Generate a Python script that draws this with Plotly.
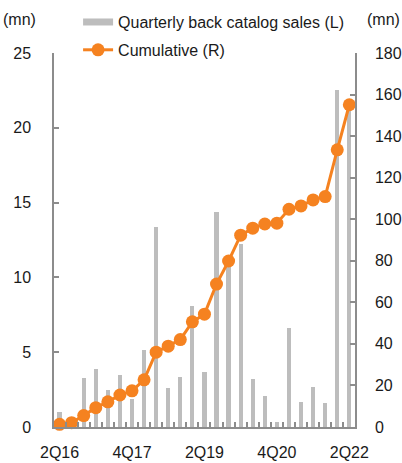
import plotly.graph_objects as go

quarters = ["2Q16", "3Q16", "4Q16", "1Q17", "2Q17", "3Q17", "4Q17", "1Q18", "2Q18", "3Q18",
            "4Q18", "1Q19", "2Q19", "3Q19", "4Q19", "1Q20", "2Q20", "3Q20", "4Q20", "1Q21",
            "2Q21", "3Q21", "4Q21", "1Q22", "2Q22"]
quarterly_sales = [1.0, 0.4, 3.3, 3.85, 2.5, 3.47, 1.9, 5.13, 13.4, 2.63,
                   3.33, 8.1, 3.68, 14.35, 10.8, 12.2, 3.24, 2.05, 0.35, 6.65,
                   1.67, 2.68, 1.6, 22.55, 21.5]
cumulative = [1.3, 2.1, 5.5, 9.3, 12.1, 15.4, 17.4, 22.7, 36.0, 38.9,
              42.1, 50.6, 54.3, 68.8, 79.9, 92.3, 95.7, 97.7, 98.1, 104.8,
              106.4, 109.3, 110.9, 133.4, 155.1]
label_every = 6

GRAY = "#BDBDBD"
ORANGE = "#F58220"
AXIS = "#8C8C8C"
FONT = "Liberation Sans, Arial, sans-serif"

xs = list(range(len(quarters)))
tickvals = [i for i in xs if i % label_every == 0]
ticktext = [quarters[i] for i in tickvals]
boundaries = [i + 0.5 for i in xs[:-1]]

fig = go.Figure()
fig.add_trace(go.Bar(x=xs, y=quarterly_sales, marker=dict(color=GRAY, line=dict(width=0)),
                     width=0.35, showlegend=False, yaxis="y", name="Quarterly back catalog sales (L)"))
# legend proxy for bars (wide horizontal swatch)
fig.add_trace(go.Scatter(x=[None], y=[None], mode="lines", line=dict(color=GRAY, width=7),
                         name="Quarterly back catalog sales (L)", legendgroup="a"))
fig.add_trace(go.Scatter(x=xs, y=cumulative, mode="lines+markers", yaxis="y2",
                         line=dict(color=ORANGE, width=3), marker=dict(color=ORANGE, size=13),
                         name="Cumulative (R)", legendgroup="b", cliponaxis=False))

fig.update_layout(
    width=402, height=463,
    margin=dict(l=54, r=47, t=53, b=36, autoexpand=False),
    paper_bgcolor="white", plot_bgcolor="white",
    font=dict(family=FONT, size=16, color="#1a1a1a"),
    bargap=0,
    showlegend=True,
    legend=dict(x=0.08, y=0.989, xanchor="left", yanchor="top", yref="container",
                bgcolor="rgba(0,0,0,0)", font=dict(size=16), tracegroupgap=4,
                traceorder="grouped", itemwidth=30),
    xaxis=dict(range=[-0.46, 24.47], tickmode="array", tickvals=tickvals, ticktext=ticktext,
               ticks="", showline=True, linecolor=AXIS, linewidth=1.5, showgrid=False,
               zeroline=False, ticklabelstandoff=10,
               minor=dict(tickmode="array", tickvals=boundaries, ticks="inside", ticklen=5,
                          tickcolor=AXIS, tickwidth=1.5, showgrid=False)),
    yaxis=dict(range=[0, 25], dtick=5, ticks="inside", ticklen=5, tickcolor=AXIS, tickwidth=1.5,
               showline=True, linecolor=AXIS, linewidth=1.5, showgrid=False, zeroline=False,
               ticklabelstandoff=18),
    yaxis2=dict(range=[0, 180], dtick=20, overlaying="y", side="right", ticks="inside", ticklen=5,
                tickcolor=AXIS, tickwidth=1.5, showline=True, linecolor=AXIS, linewidth=1.5,
                showgrid=False, zeroline=False, ticklabelstandoff=15),
)

fig.add_annotation(text="(mn)", xref="paper", yref="paper", x=-0.113, y=1.0, yshift=34,
                   xanchor="center", yanchor="middle", showarrow=False, font=dict(size=16))
fig.add_annotation(text="(mn)", xref="paper", yref="paper", x=1.096, y=1.0, yshift=34,
                   xanchor="center", yanchor="middle", showarrow=False, font=dict(size=16))

fig.write_html("out.html")
